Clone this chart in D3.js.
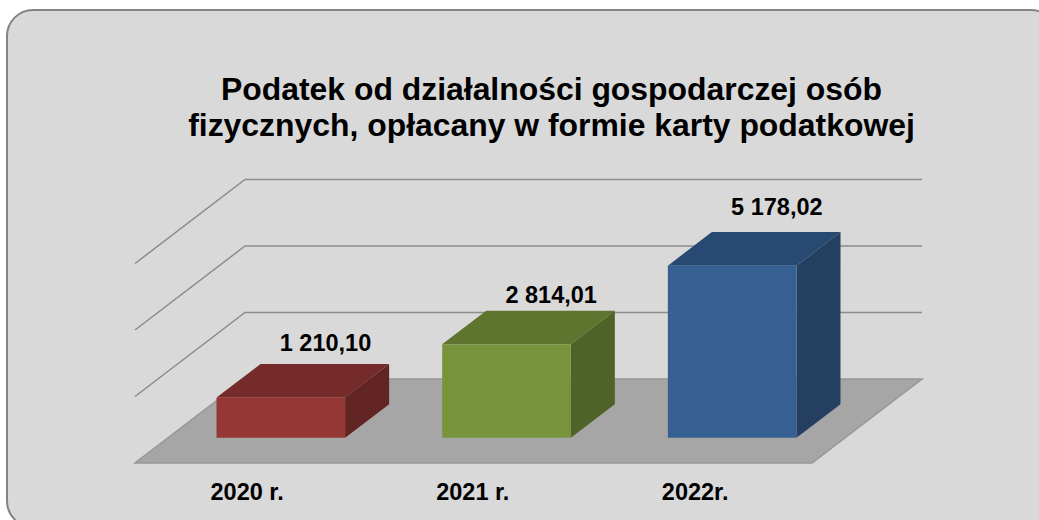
<!DOCTYPE html>
<html>
<head>
<meta charset="utf-8">
<script src="https://cdn.jsdelivr.net/npm/d3@7"></script>
<style>
  html, body { margin: 0; padding: 0; background: #fff; overflow: hidden; }
  text { font-family: "Liberation Sans", Arial, sans-serif; font-weight: bold; fill: #000; }
</style>
</head>
<body>
<div id="chart"></div>
<script>
const categories = ['2020 r.', '2021 r.', '2022r.']
const values = [1210.10, 2814.01, 5178.02]
const valueLabels = ['1 210,10', '2 814,01', '5 178,02']
const gridTicks = [0, 2000, 4000, 6000]
const titleLines = [
  'Podatek od działalności gospodarczej osób',
  'fizycznych, opłacany w formie karty podatkowej'
]
const faceColors = [
  { front: '#953735', top: '#752b2a', side: '#632523' },
  { front: '#77933c', top: '#5f752f', side: '#4f6228' },
  { front: '#376092', top: '#284a72', side: '#243f60' }
]

const width = 1039
const height = 520

const svg = d3.select('#chart').append('svg')
  .attr('width', width)
  .attr('height', height)
  .style('display', 'block')

// card background, runs off the right and bottom edge
svg.append('rect')
  .attr('x', 7)
  .attr('y', 10)
  .attr('width', 1050)
  .attr('height', 517)
  .attr('rx', 26)
  .attr('fill', '#d9d9d9')
  .attr('stroke', '#848484')
  .attr('stroke-width', 2)

svg.append('g')
  .selectAll('text')
  .data(titleLines)
  .join('text')
  .attr('x', 551.5)
  .attr('y', (d, i) => 100 + i * 36)
  .attr('text-anchor', 'middle')
  .style('font-size', '31.9px')
  .text(d => d)

// oblique projection: x along the floor front, v is height, z is depth 0 (front)..1 (back)
const x = d3.scaleBand().domain(categories).range([135, 812]).paddingInner(0.43).paddingOuter(0.215)
const y = d3.scaleLinear().domain([0, 6000]).range([463, 263.5])
const depthX = d3.scaleLinear().domain([0, 1]).range([0, 110])
const depthY = d3.scaleLinear().domain([0, 1]).range([0, -84])
const barDepth = [0.3, 0.7]

const project = (px, v, z) => [px + depthX(z), y(v) + depthY(z)]
const line = d3.line()
const poly = pts => line(pts) + 'Z'

const [floorLeft, floorRight] = x.range()

// grid lines, the first tick is the back edge of the floor
const grid = svg.append('g').attr('fill', 'none').attr('stroke', '#8c8c8c').attr('stroke-width', 1.5)
grid.selectAll('path')
  .data(gridTicks.slice(1))
  .join('path')
  .attr('d', d => line([project(floorLeft, d, 0), project(floorLeft, d, 1), project(floorRight, d, 1)]))

// floor
svg.append('path')
  .attr('d', poly([
    project(floorLeft, 0, 0),
    project(floorRight, 0, 0),
    project(floorRight, 0, 1),
    project(floorLeft, 0, 1)
  ]))
  .attr('fill', '#a6a6a6')
  .attr('stroke', '#969696')
  .attr('stroke-width', 1.5)

// bars
const bars = svg.append('g')
  .selectAll('g')
  .data(categories.map((c, i) => ({ c, i, v: values[i], colors: faceColors[i], label: valueLabels[i] })))
  .join('g')

const [zf, zb] = barDepth
bars.append('path')
  .attr('fill', d => d.colors.top)
  .attr('d', d => {
    const l = x(d.c); const r = l + x.bandwidth()
    return poly([project(l, d.v, zf), project(r, d.v, zf), project(r, d.v, zb), project(l, d.v, zb)])
  })
bars.append('path')
  .attr('fill', d => d.colors.side)
  .attr('d', d => {
    const r = x(d.c) + x.bandwidth()
    return poly([project(r, 0, zf), project(r, 0, zb), project(r, d.v, zb), project(r, d.v, zf)])
  })
bars.append('path')
  .attr('fill', d => d.colors.front)
  .attr('d', d => {
    const l = x(d.c); const r = l + x.bandwidth()
    return poly([project(l, 0, zf), project(r, 0, zf), project(r, d.v, zf), project(l, d.v, zf)])
  })

// value labels sit a little differently above each bar
const labelGap = [13, 8, 17]
bars.append('text')
  .attr('x', d => project(x(d.c), d.v, zb)[0] + 65)
  .attr('y', d => project(x(d.c), d.v, zb)[1] - labelGap[d.i])
  .attr('text-anchor', 'middle')
  .style('font-size', '23.5px')
  .text(d => d.label)

// category labels
bars.append('text')
  .attr('x', d => x(d.c) + 27)
  .attr('y', 500)
  .style('font-size', '23.5px')
  .text(d => d.c)
</script>
</body>
</html>
